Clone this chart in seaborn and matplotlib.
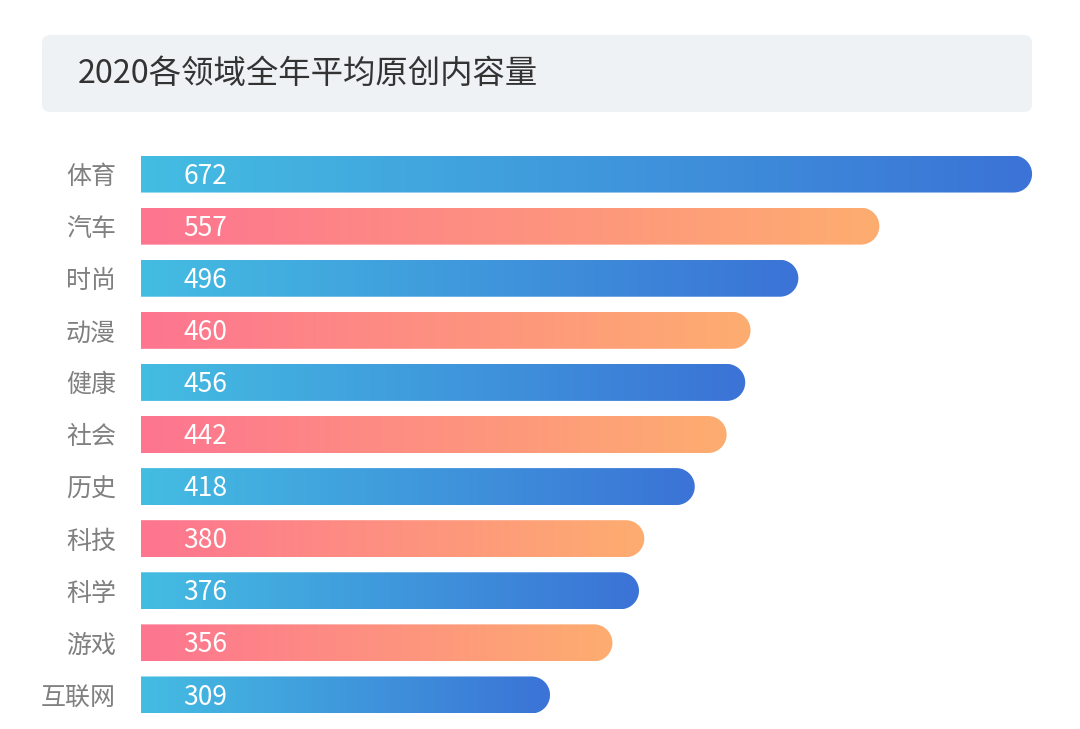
import numpy as np
import pandas as pd
import matplotlib.pyplot as plt
from matplotlib.path import Path
from matplotlib.patches import PathPatch, FancyBboxPatch
from matplotlib.colors import LinearSegmentedColormap
import seaborn as sns

categories = ["体育", "汽车", "时尚", "动漫", "健康", "社会", "历史", "科技", "科学", "游戏", "互联网"]
values = [672, 557, 496, 460, 456, 442, 418, 380, 376, 356, 309]
groups = ["blue", "pink"] * 5 + ["blue"]
title = "2020各领域全年平均原创内容量"

grad = {
    "blue": LinearSegmentedColormap.from_list("b", ["#44bde2", "#3b73d6"]),
    "pink": LinearSegmentedColormap.from_list("p", ["#fe7590", "#fdad70"]),
}

sns.set_theme(style="white")
plt.rcParams['font.family'] = ['Noto Sans CJK SC', 'DejaVu Sans']

df = pd.DataFrame({"category": categories, "value": values, "group": groups})

fig = plt.figure(figsize=(10.8, 7.29), dpi=100)
ax = fig.add_axes([141 / 1080, 1 - 721 / 729, (1050 - 141) / 1080, 573 / 729])
sns.barplot(data=df, x="value", y="category", hue="group",
            palette={"blue": "#3b8fdc", "pink": "#fe8a80"},
            dodge=False, width=0.71, legend=False, ax=ax)

xlim = (1, 685.5)
ylim = (len(categories) - 0.5, -0.5)
ax.set_xlim(*xlim)
ax.set_ylim(*ylim)

# px per data unit, to keep the round cap circular
p0 = ax.transData.transform((0, 0))
p1 = ax.transData.transform((1, 1))
sx = abs(p1[0] - p0[0])
sy = abs(p1[1] - p0[1])

bars = list(ax.patches)
for bar in bars:
    x0, y0 = bar.get_x(), bar.get_y()
    w, h = bar.get_width(), bar.get_height()
    if w <= 0:
        continue
    bar.set_visible(False)
    idx = int(round(y0 + h / 2))
    x1 = x0 + w
    rx = (h * sy / 2) / sx
    yc = y0 + h / 2
    t = np.linspace(-np.pi / 2, np.pi / 2, 40)
    arc = [(x1 - rx + rx * np.cos(a), yc + h / 2 * np.sin(a)) for a in t]
    verts = [(x0, y0)] + arc + [(x0, y0 + h), (x0, y0)]
    codes = [Path.MOVETO] + [Path.LINETO] * (len(verts) - 2) + [Path.CLOSEPOLY]
    clip = PathPatch(Path(verts, codes), transform=ax.transData, facecolor="none", edgecolor="none")
    ax.add_patch(clip)
    img = ax.imshow(np.linspace(0, 1, 256).reshape(1, -1), cmap=grad[groups[idx]],
                    extent=(max(x0, xlim[0]), x1, y0 + h, y0), aspect="auto",
                    interpolation="bilinear", zorder=2)
    img.set_clip_path(clip)
    ax.text(33, idx + 0.04, str(values[idx]), color="white", fontsize=19,
            va="center", ha="left", zorder=3)

ax.set_xlim(*xlim)
ax.set_ylim(*ylim)
ax.set_xticks([])
ax.set_xlabel("")
ax.set_ylabel("")
ax.tick_params(axis="y", length=0, pad=18, labelsize=18, labelcolor="#808080")
sns.despine(ax=ax, left=True, bottom=True)

box = FancyBboxPatch((42 / 1080, 1 - 112 / 729), 990 / 1080, 77 / 729,
                     boxstyle="round,pad=0,rounding_size=0.0075",
                     mutation_aspect=1080 / 729,
                     transform=fig.transFigure, facecolor="#eef2f4", edgecolor="none")
fig.add_artist(box)
fig.text(78 / 1080, 1 - 74 / 729, title, fontsize=23.3, color="#333333", va="center", ha="left")

fig.savefig("out.png", dpi=100)
